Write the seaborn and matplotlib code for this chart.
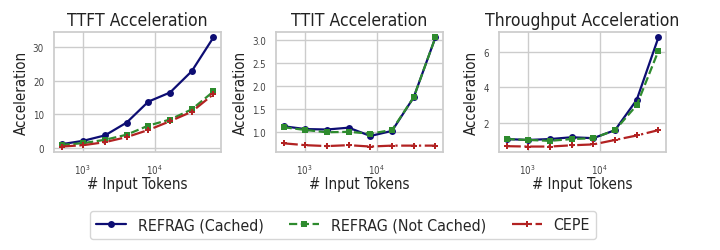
import matplotlib
matplotlib.use("Agg")
import matplotlib.pyplot as plt
import seaborn as sns
import pandas as pd
import numpy as np

tokens = [512, 1024, 2048, 4096, 8192, 16384, 32768, 65536]

ttft_cached = [1.2, 2.2, 3.8, 7.6, 13.8, 16.5, 22.8, 32.8]
ttft_not_cached = [1.0, 1.5, 2.5, 4.0, 6.7, 8.5, 11.5, 16.8]
ttft_cepe = [0.5, 0.9, 1.8, 3.3, 5.4, 8.0, 10.8, 16.0]

ttit_cached = [1.12, 1.06, 1.05, 1.09, 0.91, 1.02, 1.75, 3.05]
ttit_not_cached = [1.10, 1.04, 0.99, 1.00, 0.96, 1.04, 1.75, 3.05]
ttit_cepe = [0.75, 0.71, 0.69, 0.71, 0.68, 0.70, 0.70, 0.70]

thr_cached = [1.1, 1.05, 1.1, 1.2, 1.15, 1.6, 3.3, 6.8]
thr_not_cached = [1.1, 1.05, 1.0, 1.1, 1.15, 1.6, 3.0, 6.05]
thr_cepe = [0.7, 0.68, 0.68, 0.75, 0.8, 1.05, 1.3, 1.6]

methods = ["REFRAG (Cached)", "REFRAG (Not Cached)", "CEPE"]
titles = ["TTFT Acceleration", "TTIT Acceleration", "Throughput Acceleration"]
panels = [
    [ttft_cached, ttft_not_cached, ttft_cepe],
    [ttit_cached, ttit_not_cached, ttit_cepe],
    [thr_cached, thr_not_cached, thr_cepe],
]

colors = ["#0d0d73", "#2e8b2e", "#b22222"]
styles = ["-", "--", "-."]
markers = ["o", "s", "P"]

sns.set_theme(style="whitegrid")
plt.rcParams['font.family'] = ['DejaVu Sans']
plt.rcParams['font.stretch'] = 'condensed'

fig = plt.figure(figsize=(7.2, 2.51), dpi=100)
lefts = [54/720, 276/720, 499/720]
w = 167/720
bottom = 1 - 153/251
h = 120/251
axes = [fig.add_axes([l, bottom, w, h]) for l in lefts]

for ax, title, series in zip(axes, titles, panels):
    for name, vals, c, ls, mk in zip(methods, series, colors, styles, markers):
        df = pd.DataFrame({"tokens": tokens, "acc": vals})
        sns.lineplot(data=df, x="tokens", y="acc", ax=ax, color=c, linestyle=ls,
                     marker=mk, markersize=5, markeredgewidth=0, linewidth=1.6,
                     label=name, legend=False)
    ax.set_xscale("log")
    ax.set_title(title, fontsize=12.6, pad=5, color="#222222")
    ax.set_xlabel("# Input Tokens", fontsize=10.8, labelpad=0, color="#222222")
    ax.set_ylabel("Acceleration", fontsize=10.8, labelpad=3, color="#222222")
    ax.tick_params(axis="both", labelsize=7, pad=1.2, colors="#444444")
    ax.minorticks_off()
    for s in ax.spines.values():
        s.set_edgecolor("#cccccc")

axes[0].set_yticks([0, 10, 20, 30])
axes[1].set_yticks([1.0, 1.5, 2.0, 2.5, 3.0])
axes[2].set_yticks([2, 4, 6])

h_, l_ = axes[0].get_legend_handles_labels()
fig.legend(h_, l_, loc="center", bbox_to_anchor=(343/720, 1 - 226/251), ncol=3,
           fontsize=11.4, frameon=True, handlelength=1.9, handletextpad=0.75,
           columnspacing=1.6, borderpad=0.4)

fig.savefig("out.png", dpi=100)
